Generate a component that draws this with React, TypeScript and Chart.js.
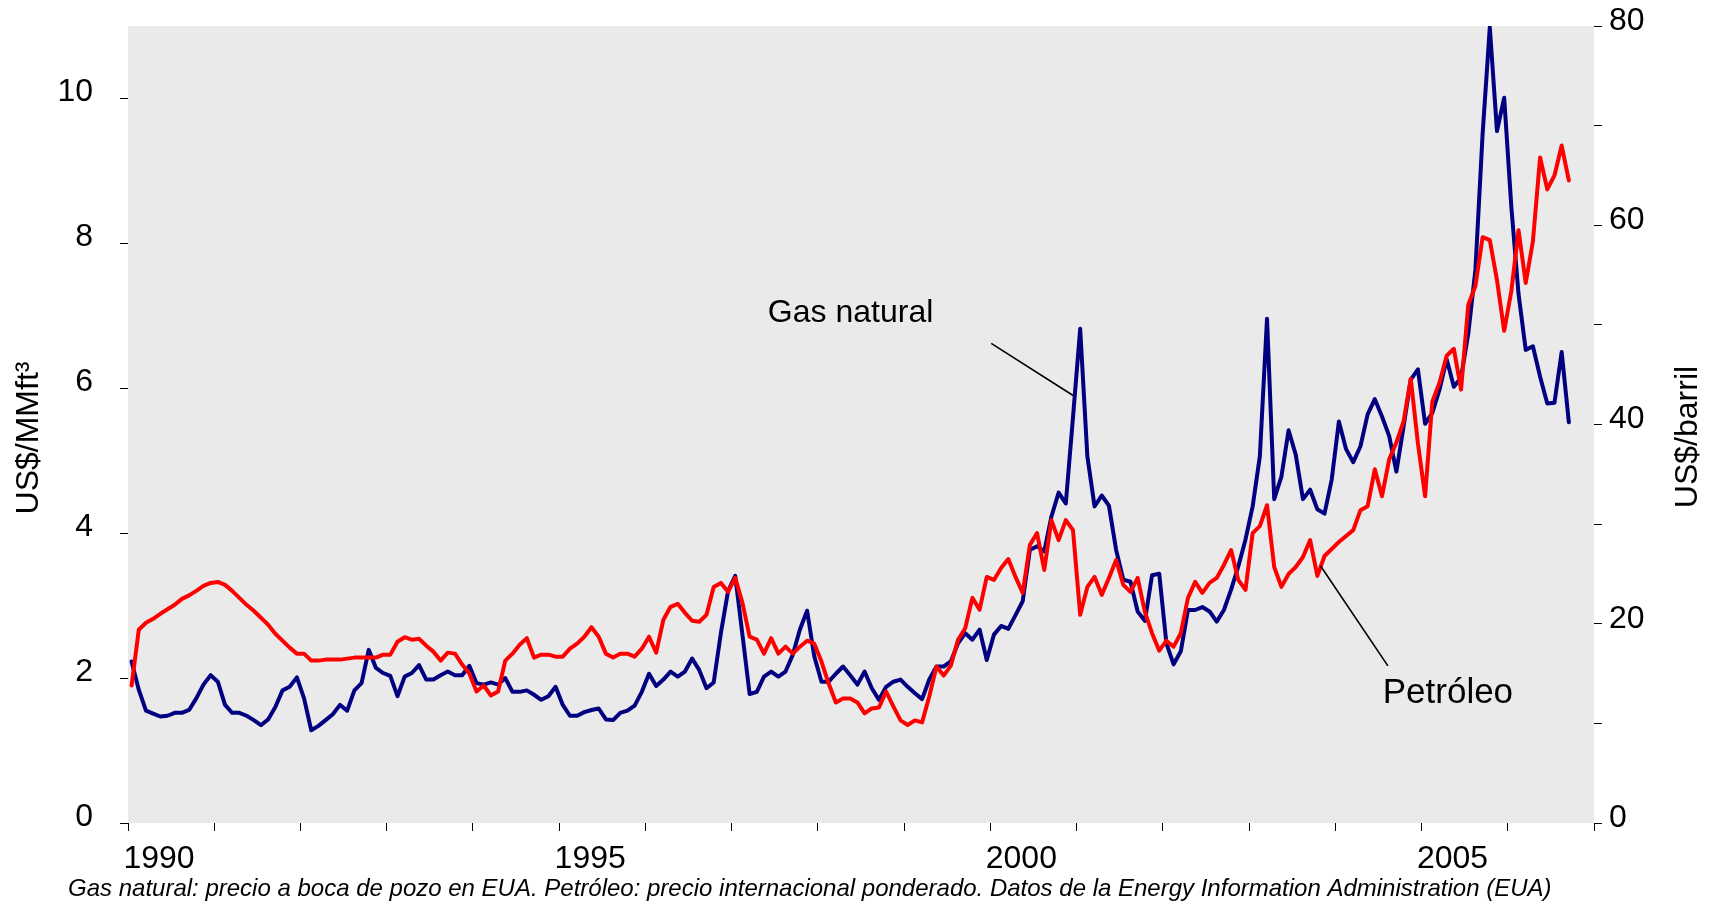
import React, { useEffect, useRef } from 'react';
import { Chart, registerables } from 'chart.js';

Chart.register(...registerables);

// ---- data (monthly, Jan 1990 - Sep 2006) ----
const START_YEAR = 1990;
const END_YEAR = 2007;

// Natural gas wellhead price, US$/MMft³ (left axis)
const gasPrice: number[] = [
  2.23, 1.84, 1.55, 1.51, 1.47, 1.48, 1.52, 1.52, 1.56, 1.72, 1.91, 2.04, // 1990
  1.95, 1.63, 1.52, 1.52, 1.48, 1.42, 1.35, 1.43, 1.6, 1.83, 1.88, 2.01, // 1991
  1.72, 1.28, 1.34, 1.42, 1.5, 1.63, 1.55, 1.83, 1.93, 2.39, 2.14, 2.07, // 1992
  2.03, 1.75, 2.02, 2.07, 2.18, 1.98, 1.98, 2.04, 2.09, 2.04, 2.04, 2.17, // 1993
  1.93, 1.91, 1.94, 1.91, 2.0, 1.81, 1.81, 1.83, 1.77, 1.7, 1.75, 1.88, // 1994
  1.63, 1.48, 1.48, 1.53, 1.56, 1.58, 1.43, 1.42, 1.52, 1.55, 1.62, 1.81, // 1995
  2.06, 1.89, 1.98, 2.09, 2.02, 2.09, 2.27, 2.11, 1.86, 1.94, 2.62, 3.2, // 1996
  3.41, 2.6, 1.78, 1.81, 2.02, 2.09, 2.02, 2.09, 2.32, 2.67, 2.93, 2.3, // 1997
  1.95, 1.95, 2.06, 2.16, 2.04, 1.91, 2.09, 1.86, 1.7, 1.88, 1.95, 1.98, // 1998
  1.88, 1.79, 1.71, 1.98, 2.16, 2.16, 2.23, 2.48, 2.62, 2.53, 2.67, 2.25, // 1999
  2.6, 2.72, 2.68, 2.87, 3.06, 3.77, 3.82, 3.75, 4.23, 4.56, 4.41, 5.6, // 2000
  6.82, 5.06, 4.37, 4.52, 4.38, 3.77, 3.36, 3.33, 2.92, 2.79, 3.42, 3.44, // 2001
  2.48, 2.19, 2.37, 2.94, 2.94, 2.98, 2.92, 2.78, 2.94, 3.22, 3.54, 3.91, // 2002
  4.37, 5.06, 6.96, 4.47, 4.78, 5.42, 5.08, 4.47, 4.6, 4.33, 4.27, 4.74, // 2003
  5.54, 5.16, 4.98, 5.2, 5.64, 5.85, 5.61, 5.34, 4.85, 5.47, 6.12, 6.26, // 2004
  5.51, 5.66, 5.98, 6.4, 6.02, 6.15, 6.75, 7.64, 9.51, 10.98, 9.55, 10.01, // 2005
  8.5, 7.3, 6.53, 6.58, 6.16, 5.79, 5.8, 6.5, 5.53, // 2006
];

// Weighted international oil price, US$/barril (right axis)
const oilPrice: number[] = [
  13.8, 19.4, 20.1, 20.5, 21.0, 21.45, 21.9, 22.5, 22.85, 23.3, 23.8, 24.1, // 1990
  24.2, 23.9, 23.3, 22.6, 21.9, 21.3, 20.6, 19.9, 19.0, 18.3, 17.6, 17.0, // 1991
  17.0, 16.3, 16.3, 16.4, 16.4, 16.4, 16.5, 16.6, 16.6, 16.6, 16.6, 16.9, // 1992
  16.9, 18.2, 18.65, 18.4, 18.5, 17.8, 17.2, 16.3, 17.1, 17.0, 15.9, 15.0, // 1993
  13.2, 13.8, 12.8, 13.2, 16.3, 17.0, 17.9, 18.55, 16.6, 16.9, 16.9, 16.7, // 1994
  16.7, 17.5, 18.0, 18.7, 19.65, 18.7, 17.0, 16.6, 17.0, 17.0, 16.7, 17.5, // 1995
  18.7, 17.1, 20.4, 21.7, 22.0, 21.1, 20.3, 20.2, 20.9, 23.7, 24.1, 23.2, // 1996
  24.6, 22.1, 18.7, 18.4, 17.0, 18.55, 17.0, 17.7, 17.0, 17.7, 18.3, 18.0, // 1997
  16.2, 14.0, 12.1, 12.5, 12.5, 12.1, 11.0, 11.5, 11.6, 13.2, 11.7, 10.3, // 1998
  9.84, 10.3, 10.1, 12.7, 15.7, 14.8, 15.8, 18.4, 19.55, 22.6, 21.4, 24.7, // 1999
  24.4, 25.6, 26.5, 24.7, 23.1, 27.9, 29.1, 25.4, 30.4, 28.4, 30.4, 29.4, // 2000
  20.9, 23.7, 24.7, 22.9, 24.6, 26.4, 23.9, 23.2, 24.6, 21.2, 19.05, 17.3, // 2001
  18.3, 17.7, 19.05, 22.6, 24.2, 23.1, 24.1, 24.6, 25.9, 27.4, 24.4, 23.4, // 2002
  29.1, 29.8, 31.9, 25.7, 23.7, 25.0, 25.7, 26.7, 28.4, 24.8, 26.8, 27.5, // 2003
  28.2, 28.8, 29.4, 31.4, 31.8, 35.5, 32.8, 36.5, 38.2, 40.3, 44.6, 38.1, // 2004
  32.8, 42.3, 44.2, 46.9, 47.6, 43.5, 52.0, 53.9, 58.8, 58.5, 54.5, 49.4, // 2005
  53.4, 59.5, 54.2, 58.4, 66.8, 63.6, 65.0, 68.0, 64.5, // 2006
];

const xLabelYears = [1990, 1995, 2000, 2005];
const GAS_MAX = 11;
const GAS_STEP = 2;
const OIL_MAX = 80;
const OIL_STEP = 10;
const oilLabelValues = [0, 20, 40, 60, 80];

const gasLabel = 'Gas natural';
const oilLabel = 'Petróleo';
const leftTitle = 'US$/MMft³';
const rightTitle = 'US$/barril';
const footnote =
  'Gas natural: precio a boca de pozo en EUA. Petróleo: precio internacional ponderado. Datos de la Energy Information Administration (EUA)';

const FONT = '"Liberation Sans", Arial, Helvetica, sans-serif';

const monthX = (i: number) => START_YEAR + (i + 0.5) / 12;

const decorPlugin = {
  id: 'decor',
  beforeDraw(chart: any) {
    const { ctx, chartArea: a } = chart;
    ctx.save();
    ctx.fillStyle = '#EAEAEA';
    ctx.fillRect(a.left, a.top, a.right - a.left, a.bottom - a.top);
    ctx.restore();
  },
  afterDraw(chart: any) {
    const { ctx } = chart;
    const sx = chart.scales.x;
    const sy = chart.scales.y;
    const sy1 = chart.scales.y1;
    ctx.save();
    ctx.fillStyle = '#000';
    ctx.strokeStyle = '#000';

    // series annotations with leader lines
    ctx.font = `32px ${FONT}`;
    ctx.textAlign = 'left';
    ctx.textBaseline = 'alphabetic';
    ctx.fillText(gasLabel, sx.getPixelForValue(1997.42), sy.getPixelForValue(6.92));
    ctx.font = `35px ${FONT}`;
    ctx.fillText(oilLabel, sx.getPixelForValue(2004.55), sy1.getPixelForValue(12.08));

    ctx.lineWidth = 1.6;
    ctx.beginPath();
    ctx.moveTo(sx.getPixelForValue(2000.01), sy.getPixelForValue(6.62));
    ctx.lineTo(sx.getPixelForValue(2000.96), sy.getPixelForValue(5.9));
    ctx.moveTo(sx.getPixelForValue(2003.83), sy1.getPixelForValue(25.8));
    ctx.lineTo(sx.getPixelForValue(2004.61), sy1.getPixelForValue(15.77));
    ctx.stroke();

    // axis titles (rotated)
    ctx.font = `32px ${FONT}`;
    ctx.textAlign = 'center';
    ctx.save();
    ctx.translate(38, 438);
    ctx.rotate(-Math.PI / 2);
    ctx.fillText(leftTitle, 0, 0);
    ctx.restore();
    ctx.save();
    ctx.translate(1697, 437);
    ctx.rotate(-Math.PI / 2);
    ctx.fillText(rightTitle, 0, 0);
    ctx.restore();

    // footnote
    ctx.font = `italic 24px ${FONT}`;
    ctx.textAlign = 'left';
    ctx.fillText(footnote, 68, 896);
    ctx.restore();
  },
};

export default function App() {
  const ref = useRef<HTMLCanvasElement>(null);

  useEffect(() => {
    document.body.style.margin = '0';
    const gasData = gasPrice.map((v, i) => ({ x: monthX(i), y: v }));
    const oilData = oilPrice.map((v, i) => ({ x: monthX(i), y: v }));
    const tickGrid = {
      drawOnChartArea: false,
      drawTicks: true,
      tickLength: 8,
      color: '#000',
      lineWidth: 1,
    };
    const tickFont = { size: 32, family: FONT };
    const fixSize = (w: number | null, h: number | null) => (s: any) => {
      if (w !== null) s.width = w;
      if (h !== null) s.height = h;
      s.paddingTop = 0;
      s.paddingBottom = 0;
      s.paddingLeft = 0;
      s.paddingRight = 0;
    };
    const chart = new Chart(ref.current as HTMLCanvasElement, {
      type: 'line',
      data: {
        datasets: [
          {
            label: oilLabel,
            data: oilData,
            yAxisID: 'y1',
            borderColor: '#FF0000',
            borderWidth: 4,
            pointRadius: 0,
            tension: 0,
          },
          {
            label: gasLabel,
            data: gasData,
            yAxisID: 'y',
            borderColor: '#000080',
            borderWidth: 4,
            pointRadius: 0,
            tension: 0,
          },
        ],
      },
      options: {
        animation: false,
        responsive: false,
        devicePixelRatio: 1,
        layout: { padding: { top: 26, left: 0, right: 0, bottom: 0 } },
        plugins: { legend: { display: false }, tooltip: { enabled: false } },
        elements: { line: { borderJoinStyle: 'round', borderCapStyle: 'round' } },
        scales: {
          x: {
            type: 'linear',
            min: START_YEAR,
            max: END_YEAR,
            afterFit: fixSize(null, 79),
            grid: tickGrid,
            border: { display: false },
            ticks: {
              stepSize: 1,
              autoSkip: false,
              maxRotation: 0,
              minRotation: 0,
              labelOffset: 31,
              padding: 9,
              color: '#000',
              font: tickFont,
              callback: (v: any) => (xLabelYears.includes(Number(v)) ? String(v) : ''),
            },
          },
          y: {
            type: 'linear',
            position: 'left',
            min: 0,
            max: GAS_MAX,
            afterFit: fixSize(128, null),
            grid: tickGrid,
            border: { display: false },
            ticks: {
              stepSize: GAS_STEP,
              includeBounds: false,
              autoSkip: false,
              padding: 27,
              labelOffset: -6,
              color: '#000',
              font: tickFont,
            },
          },
          y1: {
            type: 'linear',
            position: 'right',
            min: 0,
            max: OIL_MAX,
            afterFit: fixSize(119, null),
            grid: tickGrid,
            border: { display: false },
            ticks: {
              stepSize: OIL_STEP,
              autoSkip: false,
              padding: 7,
              labelOffset: -5,
              color: '#000',
              font: tickFont,
              callback: (v: any) => (oilLabelValues.includes(Number(v)) ? String(v) : ''),
            },
          },
        },
      },
      plugins: [decorPlugin],
    } as any);
    return () => chart.destroy();
  }, []);

  return (
    <div style={{ width: 1713, height: 902, position: 'relative' }}>
      <canvas ref={ref} width={1713} height={902} style={{ display: 'block', width: 1713, height: 902 }} />
    </div>
  );
}
